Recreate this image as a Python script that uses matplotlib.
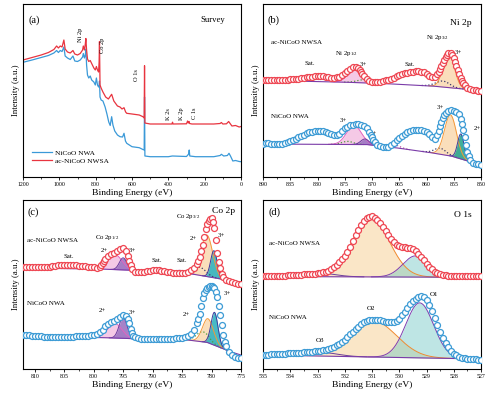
import numpy as np
import matplotlib
matplotlib.use('Agg')
import matplotlib.pyplot as plt
from matplotlib.ticker import MultipleLocator

plt.rcParams['font.family'] = ['Liberation Serif', 'DejaVu Serif']
plt.rcParams['mathtext.fontset'] = 'custom'
plt.rcParams['mathtext.rm'] = 'Liberation Serif'
plt.rcParams['mathtext.it'] = 'Liberation Serif:italic'

# ---------------- (a) Survey ----------------
surv_red_E = [1200, 1150, 1100, 1060, 1030, 1015, 1005, 995, 985, 975, 968, 955, 940, 925, 915, 900, 885, 872, 868, 862,
              857, 854, 850, 845, 838, 830, 822, 810, 802, 796, 790, 784, 781, 779, 776, 770, 760, 745, 730, 712,
              700, 680, 666, 655, 644, 635, 629, 600, 560, 540, 533, 531, 529, 500, 420, 380, 377, 374, 300, 294,
              290, 286, 283, 270, 200, 150, 115, 108, 100, 80, 68, 62, 50, 30, 10, 0]
surv_red_I = [117, 119.5, 122, 124.5, 127.5, 131, 129, 131, 130, 137, 128, 125, 124, 126.5, 123, 122, 123.5, 127, 131, 127,
              133, 138.5, 127, 118, 115.5, 116.5, 113.5, 109, 107, 110.5, 107, 105, 115, 135.5, 92, 89, 85, 80, 78, 82.7,
              76, 71, 70, 68, 69.3, 65, 63.7, 63, 62, 60.3, 59, 111.3, 54, 53, 53, 53, 54.8, 53, 53.2, 56,
              54, 55.5, 53.5, 53, 53, 53, 53.5, 54.5, 53, 53.2, 55.5, 54, 51, 51.5, 50, 50.5]
surv_blue_E = [1200, 1150, 1100, 1060, 1030, 1015, 1005, 995, 985, 975, 968, 955, 940, 925, 915, 900, 885, 872, 868, 862,
               857, 854, 850, 845, 838, 830, 822, 810, 802, 796, 790, 784, 781, 779, 776, 770, 760, 748, 738, 728,
               720, 712, 705, 695, 680, 666, 652, 644, 636, 629, 600, 560, 540, 533, 531, 529, 500, 400, 378, 300,
               288, 285, 282, 250, 150, 115, 108, 95, 75, 66, 58, 45, 30, 10, 0]
surv_blue_I = [114.7, 117, 119.5, 121.5, 124, 126.5, 124.5, 126.5, 125.5, 130, 121, 119, 117.5, 121, 116, 115.5, 117, 120, 123.5, 119,
               122, 128, 112, 102, 99, 101, 97, 95, 92, 99, 92, 90, 92, 96, 80, 77, 76, 70, 63, 55,
               51.5, 60.3, 52, 46, 42, 40.3, 40, 43.7, 36, 33.7, 30.3, 29.3, 27.5, 27, 80, 21, 20.3, 20.3, 21, 20.5,
               23, 27, 21, 20.3, 20.3, 21.5, 22.7, 21, 21.5, 23.7, 21, 16, 16.5, 15.5, 15.3]

# ---------------- (b) Ni 2p ----------------
ni_E = np.linspace(890, 850, 81)
ni_red = [97.5, 97, 96.7, 96.7, 96.7, 96.7, 96.8, 97, 97.2, 97.4, 97.6, 97.8, 98.1, 98.5, 98.9, 99.3, 99.7, 100, 100.3, 100.6,
          100.7, 100.7, 100.6, 100.3, 99.9, 99.5, 99.4, 99.6, 100.5, 102, 104, 106.3, 108.3, 109.8, 110, 108.7, 105.5, 101.5, 98, 96,
          95.2, 95, 95.1, 95.4, 95.9, 96.6, 97.4, 98.4, 99.5, 100.6, 101.7, 102.7, 103.6, 104.4, 105, 105.4, 105.7, 105.7, 105.4, 104.6,
          103.3, 101.5, 100, 100.5, 103, 108, 114, 120, 124.5, 124, 119, 111, 103, 96, 91.5, 89, 87.8, 87, 86.6, 86.3, 86]
ni_blue = [32.7, 33.5, 33.8, 33.4, 33, 32.8, 32.8, 33.2, 34, 34.9, 36, 37.1, 38.3, 39.6, 41, 42.3, 43.5, 44.6, 45.4, 45.9,
           46, 45.9, 45.5, 44.8, 43.8, 42.8, 42, 41.8, 42.8, 46.2, 48.8, 50.4, 51.5, 52.3, 52.7, 52.5, 51.8, 50.8, 49.2, 45,
           39.5, 35, 32, 30.7, 30.2, 30, 30.3, 31.5, 33.8, 36.5, 39, 41.3, 43.3, 44.8, 46, 46.8, 47.2, 47.3, 47, 46.3,
           45, 43, 39.5, 38.3, 42, 51, 58.5, 63.5, 66, 66.7, 66.3, 65, 62.5, 53, 40, 25, 16.7, 14.2, 13.3, 12.7, 12.3]
# extra readings on the steep flanks
ni_red_xE = [872.25, 871.75, 857.75, 857.25, 856.75, 856.25, 855.25, 854.75, 854.25, 853.75, 853.25]
ni_red_x = [107.3, 103.5, 105, 111, 117, 122.5, 122, 115, 107, 99.5, 93.5]
ni_blue_xE = [870.25, 869.75, 857.75, 857.25, 856.75, 853.75, 853.25, 852.75, 852.25]
ni_blue_x = [42.3, 37, 46, 55, 61.5, 58, 46.5, 32, 20.5]

ni_red_base_E = [890, 876, 868, 859, 854, 850]
ni_red_base_h = [96.7, 95, 93.5, 91, 88.3, 87]
ni_red_peaks = [(871.5, 3.0, 3.0, 'dotg'), (857.0, 6.0, 3.0, 'dot'),
                (873.2, 13.5, 2.8, 'pink'), (855.9, 34.0, 2.4, 'peach')]
ni_blue_base_E = [890, 871, 866, 860, 855.5, 852.5, 850]
ni_blue_base_h = [33, 32.5, 29.5, 25, 21, 16, 13]
ni_blue_peaks = [(874.5, 3.0, 2.5, 'dotg'), (866.0, 3.0, 2.5, 'dotp'), (857.5, 6.0, 2.5, 'dot'),
                 (873.3, 19.0, 3.2, 'pink'), (871.3, 5.5, 1.8, 'purple'),
                 (855.6, 41.0, 2.6, 'peach'), (853.7, 25.0, 1.4, 'tealb')]

# ---------------- (c) Co 2p ----------------
co_E = np.linspace(812, 775, 75)
co_red = [102.3, 102.3, 102.4, 102.3, 102.2, 102, 101.8, 101.7, 101.9, 102.3, 102.8, 103.3, 103.7, 104, 104.1, 104.1, 104, 103.9, 103.7, 103.4,
          103, 102.6, 102.2, 101.9, 101.6, 101.3, 102.5, 106, 110.5, 113.3, 114.8, 116.3, 118.2, 120.3, 121.3, 118, 108.5, 100, 97.2, 96.8,
          97.1, 97.5, 98, 98.4, 98.8, 99, 98.9, 98.5, 97.8, 97.2, 96.6, 96.1, 95.8, 95.7, 95.8, 96.3, 97.2, 98.8, 101.2, 105.5,
          112.5, 124, 140, 148.5, 151, 141, 116, 100.7, 92.3, 89.5, 88, 86.8, 85.9, 85.2, 84.7]
co_blue = [34, 33.8, 33.6, 33.4, 33.2, 33, 32.8, 32.5, 32.4, 32.3, 32.3, 32.3, 32.3, 32.3, 32.3, 32.3, 32.4, 32.5, 32.6, 32.7,
           32.9, 33.1, 33.4, 33.7, 34.2, 35.3, 37, 39.5, 42.8, 45.2, 47, 48.5, 50, 52, 54, 53.5, 46.5, 36, 32, 30.6,
           30.3, 30.1, 30, 30, 30, 30, 30, 30, 30, 30.1, 30.2, 30.4, 30.6, 30.8, 31.1, 31.7, 32.8, 35, 39.5, 46.5,
           55, 71, 79.5, 82.5, 83.3, 81, 72, 54, 34, 23, 17.5, 14.5, 12.3, 11.4, 10.7]
co_red_xE = [798.75, 798.25, 794.25, 793.75, 782.25, 781.75, 781.25, 780.75, 780.25, 779.75, 779.25, 778.75, 778.25]
co_red_x = [104, 108.3, 113.5, 104, 108.5, 118, 132, 145, 150.5, 147, 129, 107, 95.5]
co_blue_xE = [794.25, 793.75, 793.25, 782.25, 781.75, 781.25, 780.75, 780.25, 779.75, 779.25, 778.75, 778.25, 777.75]
co_blue_x = [50.5, 40.5, 33.5, 50.5, 63, 76, 81.5, 83, 82.5, 77, 63.5, 44, 27.5]

co_red_base_E = [812, 799, 790, 784, 779, 776, 775]
co_red_base_h = [101, 100, 98, 95.7, 90.7, 87.3, 86.5]
co_red_peaks = [(789.3, 3.0, 2.5, 'sat'), (785.3, 2.5, 2.0, 'sat'), (782.0, 8.0, 2.5, 'dot'),
                (796.4, 15.0, 2.8, 'pink'), (795.0, 12.0, 1.5, 'purple'),
                (780.8, 41.5, 2.3, 'peach'), (779.6, 27.0, 1.3, 'tealc')]
co_blue_base_E = [812, 799, 792, 784, 780.8, 778.5, 776.8, 775]
co_blue_base_h = [33, 31.5, 30, 29, 26.7, 21.3, 17.3, 14]
co_blue_peaks = [(781.5, 10.0, 2.5, 'dotg'),
                 (796.4, 14.5, 2.8, 'pink'), (795.0, 21.0, 1.6, 'purple'),
                 (780.6, 24.0, 2.2, 'peach'), (779.5, 33.0, 1.4, 'tealc')]

# ---------------- (d) O 1s ----------------
o_E = np.linspace(535, 527, 81)
o_red = [93.3, 93.3, 93.3, 93.3, 93.3, 93.3, 93.3, 93.4, 93.5, 93.6, 93.7, 93.8, 94, 94.2, 94.4, 94.6, 94.8, 95, 95.2, 95.5,
         95.9, 96.3, 96.8, 97.5, 98.5, 99.8, 101.6, 104, 106.8, 109.8, 113, 117, 122, 128, 134, 139.5, 144.2, 148.3, 151, 152.5,
         152.7, 151.5, 149.5, 146.5, 142.5, 138.5, 134.5, 130.5, 127, 124.3, 122.8, 122, 121.6, 121.2, 120.7, 119.8, 118.2, 115.5, 112.5, 109,
         105.5, 102.5, 99.8, 97.5, 95.8, 94.6, 94, 93.6, 93.4, 93.3, 93.3, 93.3, 93.3, 93.3, 93.3, 93.3, 93.3, 93.3, 93.3, 93.3, 93.3]
o_blue = [14, 14.2, 14.4, 14.6, 14.8, 14.9, 15, 15.2, 15.4, 15.6, 15.7, 15.9, 16, 16.2, 16.4, 16.6, 16.8, 17.1, 17.3, 17.7,
          18.1, 18.5, 18.9, 19.3, 20.2, 21.2, 22.4, 23.8, 25.4, 27.2, 29.5, 32, 34.6, 37.2, 40, 42.4, 44.7, 46.7, 48, 48.9,
          49.3, 49.4, 49.3, 49, 48.3, 47.5, 47, 46.7, 47, 48, 50.5, 53.8, 57.5, 61.3, 64.8, 68, 70.5, 72.2, 72.7, 71.8,
          69, 64, 58.3, 51.5, 44, 37, 31, 26, 21.7, 18, 15.3, 13.6, 12.4, 11.5, 10.8, 10.3, 10, 9.8, 9.6, 9.4, 9.3]
o_red_base_E = [535, 527]
o_red_base_h = [92.5, 91.7]
o_red_peaks = [(531.05, 59.3, 1.6, 'O2'), (529.4, 21.2, 1.1, 'O1'), (532.9, 3.5, 1.3, 'O3')]
o_blue_base_E = [535, 527]
o_blue_base_h = [14, 10]
o_blue_peaks = [(530.95, 36.0, 2.0, 'O2'), (529.25, 55.0, 1.2, 'O1'), (532.8, 3.5, 1.3, 'O3')]

# ---------------- styles ----------------
RED = '#EE4652'
BLUE = '#3C9BD5'
BASE_C = '#7A3BA8'
STY = {
    'pink':   dict(fc='#F4C4E4', ec='#E065C0', alpha=0.9, ls='-'),
    'purple': dict(fc='#9C74C2', ec='#6A3A9E', alpha=0.9, ls='-'),
    'peach':  dict(fc='#FADBB4', ec='#F4993A', alpha=0.9, ls='-'),
    'tealb':  dict(fc='#2BA68F', ec='#3E3F9E', alpha=0.9, ls='-'),
    'tealc':  dict(fc='#33B3C0', ec='#3C3A9C', alpha=0.9, ls='-'),
    'sat':    dict(fc='#CDB6E2', ec='#A184C8', alpha=0.9, ls='-'),
    'O2':     dict(fc='#F7D39A', ec='#F08A30', alpha=0.55, ls='-'),
    'O1':     dict(fc='#6FC7C4', ec='#7D3FB0', alpha=0.45, ls='-'),
    'O3':     dict(fc=None, ec='#6A3D9A', alpha=1, ls='-'),
    'dot':    dict(fc=None, ec='#3A3A6A', alpha=1, ls=':'),
    'dotg':   dict(fc=None, ec='#4E9A3E', alpha=1, ls=':'),
    'dotp':   dict(fc=None, ec='#C050A0', alpha=1, ls=':'),
}


def gauss(x, c, a, w):
    return a * np.exp(-4 * np.log(2) * (x - c) ** 2 / w ** 2)


def draw_fit(ax, lo, hi, base_E, base_h, peaks):
    grid = np.linspace(lo, hi, 600)
    be = np.array(base_E)[::-1]
    bh = np.array(base_h)[::-1]
    base = np.interp(grid, be, bh)
    for c, a, w, key in peaks:
        s = STY[key]
        y = base + gauss(grid, c, a, w)
        if s['fc'] is not None:
            ax.fill_between(grid, base, y, where=(y - base) > 0.05, color=s['fc'], alpha=s['alpha'], lw=0, zorder=2)
        m = (y - base) > 0.05
        lw = 0.9 if s['ls'] == ':' else 0.7
        ax.plot(grid[m], y[m], color=s['ec'], lw=lw, ls=s['ls'], zorder=3)
    ax.plot(grid, base, color=BASE_C, lw=0.8, zorder=3)


def style_axes(ax, xlim, ylim, major, minor):
    ax.set_xlim(*xlim)
    ax.set_ylim(*ylim)
    ax.set_yticks([])
    ax.xaxis.set_major_locator(MultipleLocator(major))
    ax.xaxis.set_minor_locator(MultipleLocator(minor))
    ax.tick_params(axis='x', which='major', direction='out', length=2.2, width=0.6, labelsize=4.2, pad=1.5)
    ax.tick_params(axis='x', which='minor', direction='out', length=1.3, width=0.5)
    for sp in ax.spines.values():
        sp.set_linewidth(0.8)
    ax.set_xlabel('Binding Energy (eV)', fontsize=6.8, labelpad=1)
    ax.set_ylabel('Intensity (a.u.)', fontsize=6.3, labelpad=2.5)


def markers(ax, x, y, xe, xv, col):
    e = np.concatenate([np.asarray(x, float), np.asarray(xe, float)])
    v = np.concatenate([np.asarray(y, float), np.asarray(xv, float)])
    o = np.argsort(-e)
    ax.plot(e[o], v[o], 'o', ms=4.3, mfc='white', mec=col, mew=0.9, zorder=5, clip_on=True)


fig = plt.figure(figsize=(4.94, 3.95), dpi=100)
W, H = 494.0, 395.0
ax_a = fig.add_axes([23 / W, 1 - 177 / H, 218 / W, 173 / H])
ax_b = fig.add_axes([263 / W, 1 - 177 / H, 218 / W, 173 / H])
ax_c = fig.add_axes([23 / W, 1 - 369 / H, 218 / W, 169 / H])
ax_d = fig.add_axes([263 / W, 1 - 369 / H, 218 / W, 169 / H])

# (a)
ax_a.plot(surv_blue_E, surv_blue_I, color='#3A99D8', lw=0.9, label='NiCoO NWA')
ax_a.plot(surv_red_E, surv_red_I, color='#E8343F', lw=0.9, label='ac-NiCoO NWSA')
style_axes(ax_a, (1200, 0), (0, 173), 200, 100)
ax_a.legend(loc='lower left', bbox_to_anchor=(0.03, 0.06), frameon=False, fontsize=5.3,
            handlelength=2.6, handletextpad=0.4, labelspacing=0.25, borderaxespad=0)
ax_a.text(1172, 157, '(a)', fontsize=7.5, va='center', ha='left')
ax_a.text(85, 157, 'Survey', fontsize=6.2, va='center', ha='right')
for xe, yv, t in [(881, 142, 'Ni 2p'), (760, 132, 'Co 2p'), (574, 102, 'O 1s'),
                  (400, 63, 'K 2s'), (330, 63, 'K 2p'), (257, 64, 'C 1s')]:
    ax_a.text(xe, yv, t, rotation=90, fontsize=4.6, ha='center', va='center')

# (b)
draw_fit(ax_b, 890, 850, ni_red_base_E, ni_red_base_h, ni_red_peaks)
draw_fit(ax_b, 890, 850, ni_blue_base_E, ni_blue_base_h, ni_blue_peaks)
markers(ax_b, ni_E, ni_red, ni_red_xE, ni_red_x, RED)
markers(ax_b, ni_E, ni_blue, ni_blue_xE, ni_blue_x, BLUE)
style_axes(ax_b, (890, 850), (0, 173), 5, 2.5)
ax_b.text(889.2, 157, '(b)', fontsize=7.5, va='center', ha='left')
ax_b.text(851.7, 154, 'Ni 2p', fontsize=6.8, va='center', ha='right')
ax_b.text(888.5, 134, 'ac-NiCoO NWSA', fontsize=5.0, va='center', ha='left')
ax_b.text(888.5, 61, 'NiCoO NWA', fontsize=5.0, va='center', ha='left')
for xe, yv, t in [(881.4, 113.3, 'Sat.'), (874.6, 123.3, 'Ni 2p$_{1/2}$'), (871.6, 112.7, '3+'),
                  (863.0, 112.7, 'Sat.'), (857.9, 139.3, 'Ni 2p$_{3/2}$'), (854.2, 124, '3+'),
                  (875.3, 56, '3+'), (869.8, 43.3, '2+'), (857.5, 69.3, '3+'), (850.6, 49, '2+')]:
    ax_b.text(xe, yv, t, fontsize=4.9, ha='center', va='center')

# (c)
draw_fit(ax_c, 812, 775, co_red_base_E, co_red_base_h, co_red_peaks)
draw_fit(ax_c, 812, 775, co_blue_base_E, co_blue_base_h, co_blue_peaks)
markers(ax_c, co_E, co_red, co_red_xE, co_red_x, RED)
markers(ax_c, co_E, co_blue, co_blue_xE, co_blue_x, BLUE)
style_axes(ax_c, (812, 775), (0, 169), 5, 2.5)
ax_c.text(811.3, 157.3, '(c)', fontsize=7.5, va='center', ha='left')
ax_c.text(776.0, 158, 'Co 2p', fontsize=6.8, va='center', ha='right')
ax_c.text(811.4, 128, 'ac-NiCoO NWSA', fontsize=5.0, va='center', ha='left')
ax_c.text(811.4, 65.7, 'NiCoO NWA', fontsize=5.0, va='center', ha='left')
for xe, yv, t in [(783.9, 152.3, 'Co 2p$_{3/2}$'), (797.8, 131.3, 'Co 2p$_{1/2}$'), (804.3, 112.3, 'Sat.'),
                  (798.2, 118, '2+'), (793.4, 118, '3+'), (789.3, 109, 'Sat.'), (785.1, 109, 'Sat.'),
                  (783.1, 130.7, '2+'), (778.3, 133.3, '3+'),
                  (798.5, 58, '2+'), (793.4, 56.7, '3+'), (784.3, 54.7, '2+'), (777.4, 75.7, '3+')]:
    ax_c.text(xe, yv, t, fontsize=4.9, ha='center', va='center')

# (d)
draw_fit(ax_d, 535, 527, o_red_base_E, o_red_base_h, o_red_peaks)
draw_fit(ax_d, 535, 527, o_blue_base_E, o_blue_base_h, o_blue_peaks)
markers(ax_d, o_E, o_red, [], [], RED)
markers(ax_d, o_E, o_blue, [], [], BLUE)
style_axes(ax_d, (535, 527), (0, 169), 1, 0.5)
ax_d.text(534.8, 157.3, '(d)', fontsize=7.5, va='center', ha='left')
ax_d.text(527.35, 154, 'O 1s', fontsize=6.8, va='center', ha='right')
ax_d.text(534.78, 125.7, 'ac-NiCoO NWSA', fontsize=5.0, va='center', ha='left')
ax_d.text(534.78, 51.7, 'NiCoO NWA', fontsize=5.0, va='center', ha='left')
for xe, yv, t in [(532.9, 28.3, 'O3'), (531.02, 60, 'O2'), (528.74, 74, 'O1')]:
    ax_d.text(xe, yv, t, fontsize=5.0, ha='center', va='center')

fig.savefig('out.png', dpi=100)
